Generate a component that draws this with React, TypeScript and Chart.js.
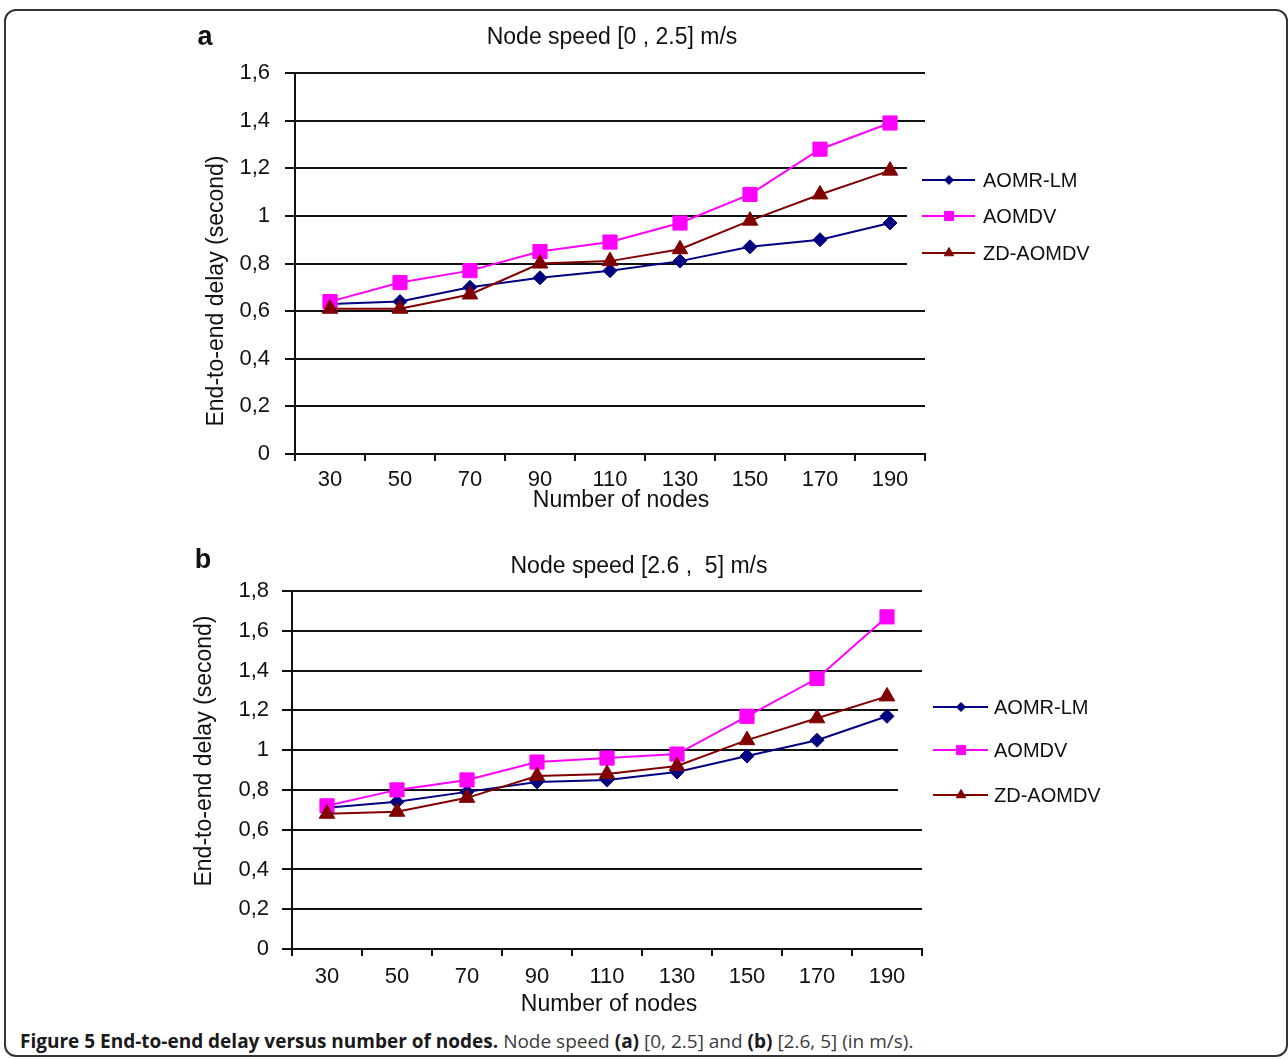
import React, { useEffect, useRef } from 'react';
import { Chart, registerables } from 'chart.js';
import { drawPoint } from 'chart.js/helpers';

Chart.register(...registerables);

// ---------- data ----------
const nodeCounts = ['30', '50', '70', '90', '110', '130', '150', '170', '190'];
const seriesNames = ['AOMR-LM', 'AOMDV', 'ZD-AOMDV'];

const aomrLmA = [0.63, 0.64, 0.70, 0.74, 0.77, 0.81, 0.87, 0.90, 0.97];
const aomdvA = [0.64, 0.72, 0.77, 0.85, 0.89, 0.97, 1.09, 1.28, 1.39];
const zdAomdvA = [0.61, 0.61, 0.67, 0.80, 0.81, 0.86, 0.98, 1.09, 1.19];

const aomrLmB = [0.71, 0.74, 0.79, 0.84, 0.85, 0.89, 0.97, 1.05, 1.17];
const aomdvB = [0.72, 0.80, 0.85, 0.94, 0.96, 0.98, 1.17, 1.36, 1.67];
const zdAomdvB = [0.68, 0.69, 0.76, 0.87, 0.88, 0.92, 1.05, 1.16, 1.27];

const yTickLabelsA = ['0', '0,2', '0,4', '0,6', '0,8', '1', '1,2', '1,4', '1,6'];
const yTickLabelsB = ['0', '0,2', '0,4', '0,6', '0,8', '1', '1,2', '1,4', '1,6', '1,8'];

const titleA = 'Node speed [0 , 2.5] m/s';
const titleB = 'Node speed [2.6 ,  5] m/s';
const xTitle = 'Number of nodes';
const yTitle = 'End-to-end delay (second)';

const FONT = "'Liberation Sans', Arial, sans-serif";
const INK = '#111';

const seriesStyles = [
  { color: '#000080', pointStyle: 'rectRot', radius: 7, legendRadius: 4.5 },
  { color: '#ff00ff', pointStyle: 'rect', radius: 10, legendRadius: 6.5 },
  { color: '#800000', pointStyle: 'triangle', radius: 9, legendRadius: 5.5 },
];

type Panel = {
  letter: string;
  title: string;
  series: number[][];
  yLabels: string[];
  yMax: number;
  canvasTop: number;
  canvasH: number;
  plotLeft: number;
  plotRight: number;
  plotTop: number;
  plotBottom: number;
  tickPadY: number;
  tickPadX: number;
  titlePos: [number, number];
  letterPos: [number, number];
  yTitlePos: [number, number];
  xTitlePos: [number, number];
  legendBox: [number, number, number, number];
  legendLine: [number, number];
  legendMarkerX: number;
  legendTextX: number;
  legendY: number[];
};

const panels: Panel[] = [
  {
    letter: 'a',
    title: titleA,
    series: [aomrLmA, aomdvA, zdAomdvA],
    yLabels: yTickLabelsA,
    yMax: 1.6,
    canvasTop: 0,
    canvasH: 525,
    plotLeft: 295,
    plotRight: 925,
    plotTop: 73,
    plotBottom: 454,
    tickPadY: 15,
    tickPadX: 6,
    titlePos: [612, 38],
    letterPos: [205, 38],
    yTitlePos: [217, 291],
    xTitlePos: [621, 501],
    legendBox: [907, 156, 220, 118],
    legendLine: [922, 975],
    legendMarkerX: 949,
    legendTextX: 983,
    legendY: [180, 216, 253],
  },
  {
    letter: 'b',
    title: titleB,
    series: [aomrLmB, aomdvB, zdAomdvB],
    yLabels: yTickLabelsB,
    yMax: 1.8,
    canvasTop: 525,
    canvasH: 500,
    plotLeft: 292,
    plotRight: 922,
    plotTop: 66,
    plotBottom: 424,
    tickPadY: 13,
    tickPadX: 8,
    titlePos: [639, 42],
    letterPos: [203, 36],
    yTitlePos: [205, 226],
    xTitlePos: [609, 480],
    legendBox: [898, 168, 230, 112],
    legendLine: [933, 988],
    legendMarkerX: 961,
    legendTextX: 994,
    legendY: [182, 225, 270],
  },
];

function makeDecor(p: Panel) {
  return {
    id: 'decor_' + p.letter,
    afterDraw(chart: any) {
      const ctx: CanvasRenderingContext2D = chart.ctx;
      ctx.save();
      // legend (white box hides gridlines, as in the original)
      const [bx, by, bw, bh] = p.legendBox;
      ctx.fillStyle = '#fff';
      ctx.fillRect(bx, by, bw, bh);
      chart.data.datasets.forEach((ds: any, i: number) => {
        const y = p.legendY[i];
        const st = seriesStyles[i];
        ctx.strokeStyle = ds.borderColor;
        ctx.lineWidth = 2;
        ctx.beginPath();
        ctx.moveTo(p.legendLine[0], y);
        ctx.lineTo(p.legendLine[1], y);
        ctx.stroke();
        ctx.fillStyle = ds.backgroundColor;
        ctx.strokeStyle = ds.borderColor;
        ctx.lineWidth = 1;
        drawPoint(ctx, { pointStyle: st.pointStyle as any, rotation: 0, radius: st.legendRadius, borderWidth: 1 }, p.legendMarkerX, y);
        ctx.fillStyle = INK;
        ctx.font = `20px ${FONT}`;
        ctx.textAlign = 'left';
        ctx.textBaseline = 'middle';
        ctx.fillText(ds.label, p.legendTextX, y + 1);
      });
      // titles
      ctx.fillStyle = INK;
      ctx.textAlign = 'center';
      ctx.textBaseline = 'middle';
      ctx.font = `23px ${FONT}`;
      ctx.fillText(p.title, p.titlePos[0], p.titlePos[1]);
      ctx.fillText(xTitle, p.xTitlePos[0], p.xTitlePos[1]);
      ctx.font = `bold 27px ${FONT}`;
      ctx.fillText(p.letter, p.letterPos[0], p.letterPos[1]);
      ctx.font = `23px ${FONT}`;
      ctx.translate(p.yTitlePos[0], p.yTitlePos[1]);
      ctx.rotate(-Math.PI / 2);
      ctx.fillText(yTitle, 0, 0);
      ctx.restore();
    },
  };
}

function ChartPanel({ p }: { p: Panel }) {
  const ref = useRef<HTMLCanvasElement | null>(null);
  useEffect(() => {
    if (!ref.current) return;
    const chart = new Chart(ref.current, {
      type: 'line',
      data: {
        labels: nodeCounts,
        datasets: p.series.map((vals, i) => ({
          label: seriesNames[i],
          data: vals,
          borderColor: seriesStyles[i].color,
          backgroundColor: seriesStyles[i].color,
          borderWidth: 2,
          pointStyle: seriesStyles[i].pointStyle as any,
          pointRadius: seriesStyles[i].radius,
          pointBorderWidth: 1,
          pointBorderColor: seriesStyles[i].color,
          pointBackgroundColor: seriesStyles[i].color,
          tension: 0,
          order: 2 - i,
        })),
      },
      options: {
        responsive: false,
        animation: false,
        devicePixelRatio: 1,
        layout: {
          padding: { left: 0, top: p.plotTop, right: 1288 - p.plotRight, bottom: 0 },
        },
        plugins: {
          legend: { display: false },
          title: { display: false },
          tooltip: { enabled: false },
        },
        scales: {
          x: {
            type: 'category',
            offset: true,
            afterFit: (s: any) => {
              s.height = p.canvasH - p.plotBottom;
            },
            grid: {
              display: true,
              offset: true,
              drawOnChartArea: false,
              drawTicks: true,
              tickLength: 7,
              color: INK,
              lineWidth: 2,
            },
            border: { display: true, color: INK, width: 2 },
            ticks: {
              color: INK,
              font: { family: FONT, size: 22 },
              padding: p.tickPadX,
              maxRotation: 0,
              autoSkip: false,
            },
          },
          y: {
            min: 0,
            max: p.yMax,
            afterFit: (s: any) => {
              s.width = p.plotLeft;
            },
            grid: {
              display: true,
              drawTicks: true,
              tickLength: 10,
              color: INK,
              lineWidth: 2,
            },
            border: { display: true, color: INK, width: 2 },
            ticks: {
              stepSize: 0.2,
              color: INK,
              font: { family: FONT, size: 22 },
              padding: p.tickPadY,
              callback: (_v: any, idx: number) => p.yLabels[idx],
            },
          },
        },
      },
      plugins: [makeDecor(p)],
    } as any);
    return () => chart.destroy();
  }, [p]);
  return (
    <canvas
      ref={ref}
      width={1288}
      height={p.canvasH}
      style={{ position: 'absolute', left: 0, top: p.canvasTop, width: 1288, height: p.canvasH }}
    />
  );
}

export default function App() {
  return (
    <div
      style={{
        position: 'fixed',
        left: 0,
        top: 0,
        width: 1288,
        height: 1059,
        background: '#fff',
        overflow: 'hidden',
      }}
    >
      <div
        style={{
          position: 'absolute',
          left: 4,
          top: 9,
          width: 1284,
          height: 1048,
          boxSizing: 'border-box',
          border: '2px solid #333',
          borderRadius: 12,
        }}
      />
      {panels.map((p) => (
        <ChartPanel key={p.letter} p={p} />
      ))}
      <div
        style={{
          position: 'absolute',
          left: 20,
          top: 1028,
          whiteSpace: 'nowrap',
          fontFamily: "'Open Sans', 'Noto Sans', sans-serif",
          fontSize: 19,
          lineHeight: '26px',
          color: '#3a3a3a',
        }}
      >
        <b style={{ color: '#1a1a1a' }}>Figure 5 End-to-end delay versus number of nodes.</b> Node speed{' '}
        <b style={{ color: '#1a1a1a' }}>(a)</b> [0, 2.5] and <b style={{ color: '#1a1a1a' }}>(b)</b> [2.6, 5] (in m/s).
      </div>
    </div>
  );
}
